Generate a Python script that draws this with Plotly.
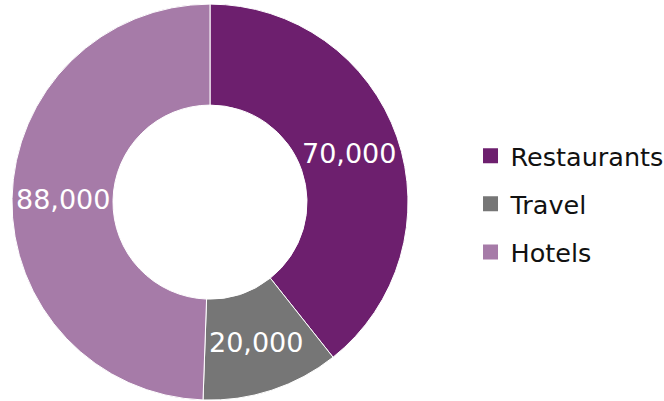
import math
import plotly.graph_objects as go

categories = ["Restaurants", "Travel", "Hotels"]
values = [70000, 20000, 88000]
colors = ["#6d1f6e", "#767676", "#a67ba8"]

W, H = 664, 401
PIE_X = [12 / W, 408 / W]
PIE_Y = [0.002, 0.99]
HOLE = 0.49

fig = go.Figure()

fig.add_trace(
    go.Pie(
        labels=categories,
        values=values,
        hole=HOLE,
        sort=False,
        direction="clockwise",
        rotation=0,
        marker=dict(colors=colors, line=dict(color="white", width=1)),
        textposition="none",
        hoverinfo="label+value",
        showlegend=False,
        domain=dict(x=PIE_X, y=PIE_Y),
    )
)

# value labels on the middle of each ring segment, along the slice bisector
cx = (PIE_X[0] + PIE_X[1]) / 2 * W
cy = (1 - (PIE_Y[0] + PIE_Y[1]) / 2) * H
r_out = min((PIE_X[1] - PIE_X[0]) * W, (PIE_Y[1] - PIE_Y[0]) * H) / 2
r_mid = r_out * (1 + HOLE) / 2
total = sum(values)
start = 0.0
for v in values:
    mid = (start + v / 2) / total * 2 * math.pi
    start += v
    px = cx + r_mid * math.sin(mid)
    py = cy - r_mid * math.cos(mid)
    fig.add_annotation(
        x=px / W,
        y=1 - py / H,
        xref="paper",
        yref="paper",
        text=f"{v:,}",
        showarrow=False,
        font=dict(family="DejaVu Sans", size=27, color="white"),
        xanchor="center",
        yanchor="middle",
    )

# legend entries: one square marker per category, each in its own group
for name, color in zip(categories, colors):
    fig.add_trace(
        go.Scatter(
            x=[None],
            y=[None],
            mode="markers",
            name=name,
            legendgroup=name,
            marker=dict(symbol="square", size=15, color=color),
            hoverinfo="skip",
        )
    )

fig.update_layout(
    width=W,
    height=H,
    margin=dict(l=0, r=0, t=0, b=0, autoexpand=False),
    paper_bgcolor="white",
    plot_bgcolor="white",
    font=dict(family="DejaVu Sans", size=25.5, color="#111111"),
    xaxis=dict(visible=False),
    yaxis=dict(visible=False),
    legend=dict(
        x=0.7086,
        y=0.491,
        xanchor="left",
        yanchor="middle",
        font=dict(family="DejaVu Sans", size=25.5, color="#111111"),
        itemwidth=30,
        tracegroupgap=12,
    ),
)

fig.write_html("out.html")
